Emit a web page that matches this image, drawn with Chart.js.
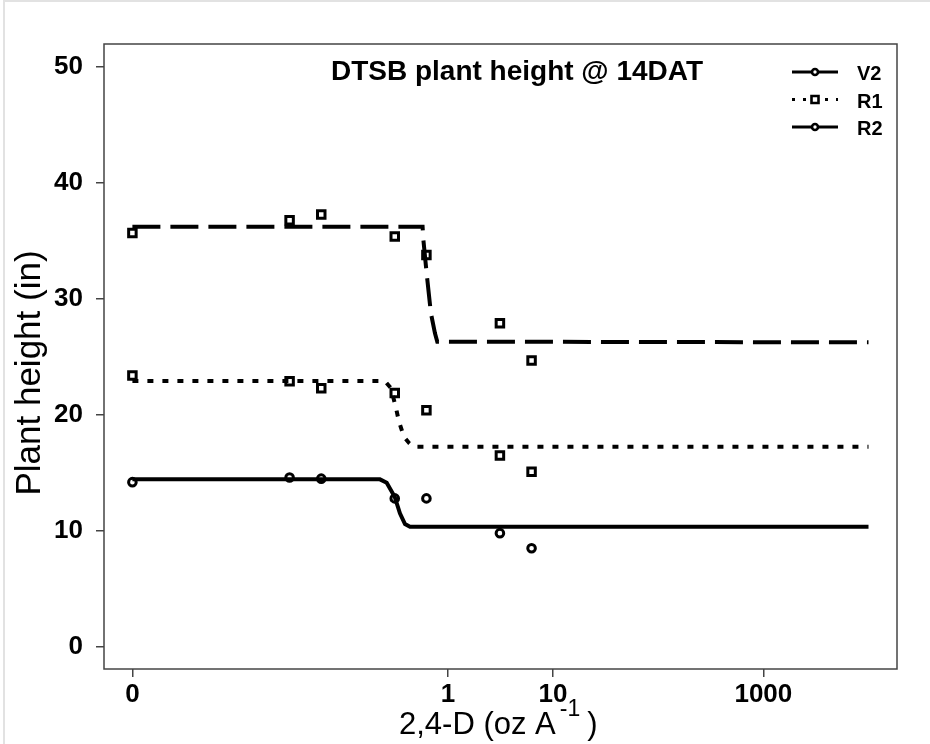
<!DOCTYPE html>
<html>
<head>
<meta charset="utf-8">
<script src="https://cdn.jsdelivr.net/npm/chart.js@4.4.1/dist/chart.umd.min.js"></script>
<style>
  html, body { margin: 0; padding: 0; background: #fff; }
  #wrap { position: relative; width: 930px; height: 744px; }
  #edge { position: absolute; left: 3px; top: 0; width: 927px; height: 744px; border-left: 2px solid #e2e2e2; border-top: 2px solid #e2e2e2; box-sizing: border-box; pointer-events: none; }
  canvas { display: block; }
</style>
</head>
<body>
<div id="wrap">
  <canvas id="heightChart" width="930" height="744"></canvas>
  <div id="edge"></div>
</div>
<script>
// 2,4-D rate (oz/A), 0 is shown at the "0" tick of the log axis
const doses = [0, 0.03125, 0.0625, 0.3125, 0.625, 3.125, 6.25];

// observed plant height (in)
const v2Height = [14.2, 14.6, 14.5, 12.8, 12.8, 9.8, 8.5];
const r1Height = [23.4, 22.9, 22.3, 21.9, 20.4, 16.5, 15.1];
const r2Height = [35.7, 36.8, 37.3, 35.4, 33.8, 27.9, 24.7];

// fitted curves
const v2FitDose = [0, 0.226, 0.262, 0.312, 0.350, 0.391, 0.436, 10000];
const v2FitHeight = [14.44, 14.44, 14.15, 12.94, 11.51, 10.59, 10.35, 10.35];
const r1FitDose = [0, 0.252, 0.287, 0.319, 0.343, 0.382, 0.427, 0.469, 10000];
const r1FitHeight = [22.92, 22.92, 22.32, 20.71, 19.41, 18.12, 17.58, 17.26, 17.26];
const r2FitDose = [0, 0.575, 0.583, 0.628, 0.690, 0.754, 0.793, 10000];
const r2FitHeight = [36.24, 36.24, 35.24, 32.22, 28.77, 27.04, 26.32, 26.26];

const xTickValues = [0, 1, 10, 1000];
const yTickValues = [0, 10, 20, 30, 40, 50];
const seriesNames = ['V2', 'R1', 'R2'];

const zeroDose = 0.001; // where dose 0 sits on the log axis
const FONT = '"Liberation Sans", Arial, sans-serif';

function toX(d) {
  return d === 0 ? zeroDose : d;
}
function pairs(xs, ys) {
  return xs.map((x, i) => ({ x: toX(x), y: ys[i] }));
}

function fitLine(xs, ys, dash) {
  return {
    data: pairs(xs, ys),
    showLine: true,
    pointRadius: 0,
    borderColor: '#000',
    borderWidth: 4,
    borderDash: dash,
    borderCapStyle: 'butt',
    tension: 0,
    fill: false
  };
}
function obsPoints(ys, style, r) {
  return {
    data: pairs(doses, ys),
    showLine: false,
    pointStyle: style,
    pointRadius: r,
    pointBorderWidth: 3,
    pointBorderColor: '#000',
    pointBackgroundColor: '#fff'
  };
}

// legend as drawn in the original (styles don't all match the curves)
const legendLook = [
  { dash: [], marker: 'circle' },
  { dash: [3, 8], marker: 'rect' },
  { dash: [], marker: 'circle' }
];

const decorations = {
  id: 'decorations',
  afterDraw(chart) {
    const ctx = chart.ctx;
    const a = chart.chartArea;
    ctx.save();

    // plot box
    ctx.strokeStyle = '#444';
    ctx.lineWidth = 1.5;
    ctx.strokeRect(a.left, a.top, a.right - a.left, a.bottom - a.top);

    ctx.fillStyle = '#000';
    // title inside the box
    ctx.font = 'bold 28px ' + FONT;
    ctx.textAlign = 'center';
    ctx.textBaseline = 'alphabetic';
    ctx.fillText('DTSB plant height @ 14DAT', 517, 80);

    // x axis title with superscript
    ctx.textAlign = 'left';
    const mainFont = '31px ' + FONT;
    const supFont = '23px ' + FONT;
    ctx.font = mainFont;
    const part1 = '2,4-D (oz A';
    const w1 = ctx.measureText(part1).width;
    let x = 399;
    ctx.fillText(part1, x, 734);
    x += w1 + 4;
    ctx.font = supFont;
    ctx.fillText('-1', x, 716);
    x += ctx.measureText('-1').width + 7;
    ctx.font = mainFont;
    ctx.fillText(')', x, 734);

    // y axis title
    ctx.save();
    ctx.translate(30, 373);
    ctx.rotate(-Math.PI / 2);
    ctx.font = '35px ' + FONT;
    ctx.textAlign = 'center';
    ctx.textBaseline = 'middle';
    ctx.fillText('Plant height (in)', 0, 0);
    ctx.restore();

    // legend
    seriesNames.forEach((name, i) => {
      const y = 72 + i * 27.5;
      const look = legendLook[i];
      ctx.strokeStyle = '#000';
      ctx.lineWidth = 2.8;
      ctx.setLineDash(look.dash);
      ctx.beginPath();
      ctx.moveTo(792, y);
      ctx.lineTo(838, y);
      ctx.stroke();
      ctx.setLineDash([]);
      ctx.fillStyle = '#fff';
      ctx.lineWidth = 2.6;
      ctx.beginPath();
      if (look.marker === 'circle') {
        ctx.arc(815, y, 3, 0, Math.PI * 2);
      } else {
        ctx.rect(811.5, y - 3.5, 7, 7);
      }
      ctx.fill();
      ctx.stroke();
      ctx.fillStyle = '#000';
      ctx.font = 'bold 20px ' + FONT;
      ctx.textAlign = 'left';
      ctx.textBaseline = 'alphabetic';
      ctx.fillText(name, 857, y + 8);
    });

    ctx.restore();
  }
};

const ctx = document.getElementById('heightChart').getContext('2d');
new Chart(ctx, {
  type: 'scatter',
  data: {
    datasets: [
      fitLine(v2FitDose, v2FitHeight, []),
      fitLine(r1FitDose, r1FitHeight, [6, 9]),
      fitLine(r2FitDose, r2FitHeight, [28, 10]),
      obsPoints(v2Height, 'circle', 3.8),
      obsPoints(r1Height, 'rect', 5.3),
      obsPoints(r2Height, 'rect', 5.3)
    ]
  },
  options: {
    responsive: false,
    animation: false,
    devicePixelRatio: 1,
    layout: { padding: { left: 0, right: 33, top: 44, bottom: 0 } },
    plugins: {
      legend: { display: false },
      tooltip: { enabled: false },
      title: { display: false }
    },
    scales: {
      x: {
        type: 'logarithmic',
        min: 0.000537,
        max: 18660,
        afterBuildTicks: s => { s.ticks = xTickValues.map(v => ({ value: toX(v) })); },
        afterFit: s => { s.height = 75; },
        ticks: {
          callback: (v, i) => String(xTickValues[i]),
          color: '#000',
          font: { family: FONT, size: 26, weight: 'bold' },
          padding: 2,
          maxRotation: 0,
          autoSkip: false
        },
        grid: { drawOnChartArea: false, drawTicks: true, tickLength: 8, color: '#444', lineWidth: 1.5 },
        border: { display: false }
      },
      y: {
        type: 'linear',
        min: -1.92,
        max: 52,
        afterBuildTicks: s => { s.ticks = yTickValues.map(v => ({ value: v })); },
        afterFit: s => { s.width = 104; },
        ticks: {
          color: '#000',
          font: { family: FONT, size: 26, weight: 'bold' },
          padding: 13
        },
        grid: { drawOnChartArea: false, drawTicks: true, tickLength: 8, color: '#444', lineWidth: 1.5 },
        border: { display: false }
      }
    }
  },
  plugins: [decorations]
});
</script>
</body>
</html>
